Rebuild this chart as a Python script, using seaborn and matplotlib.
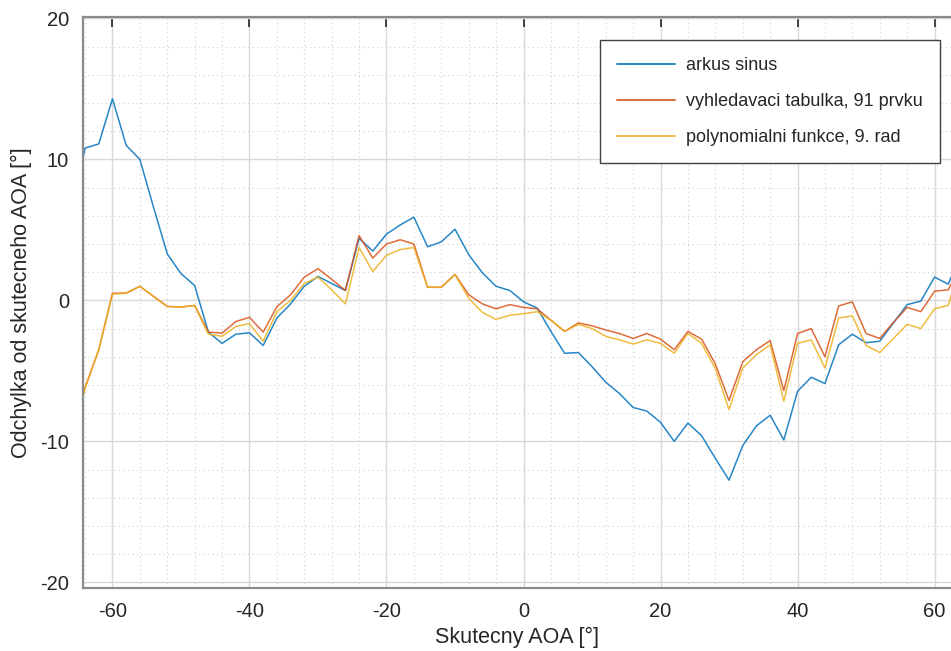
import numpy as np
import pandas as pd
import matplotlib
matplotlib.use("Agg")
import matplotlib.pyplot as plt
from matplotlib.ticker import MultipleLocator
import seaborn as sns

# Skutecny AOA (step 2 deg), only the visible part of the -90..90 range
aoa = list(range(-66, 66, 2))

arkus_sinus = [6.0, 10.8, 11.1, 14.3, 11.0, 10.0, 6.6, 3.3, 1.9, 1.05,
               -2.25, -3.05, -2.4, -2.3, -3.2, -1.25, -0.25, 1.0, 1.7, 1.2,
               0.7, 4.4, 3.5, 4.7, 5.35, 5.9, 3.8, 4.15, 5.05, 3.25,
               1.95, 1.0, 0.7, -0.1, -0.55, -2.2, -3.75, -3.7, -4.7, -5.8,
               -6.6, -7.6, -7.85, -8.65, -10.0, -8.7, -9.6, -11.2, -12.75, -10.3,
               -8.9, -8.15, -9.9, -6.45, -5.45, -5.9, -3.15, -2.4, -3.0, -2.9,
               -1.6, -0.3, -0.05, 1.65, 1.15, 3.5]

tabulka = [-10.0, -6.2, -3.5, 0.5, 0.52, 1.0, 0.28, -0.43, -0.47, -0.36,
           -2.25, -2.32, -1.5, -1.2, -2.25, -0.45, 0.4, 1.65, 2.25, 1.5,
           0.7, 4.6, 3.0, 4.0, 4.3, 4.0, 0.93, 0.93, 1.85, 0.4,
           -0.25, -0.6, -0.3, -0.5, -0.6, -1.4, -2.2, -1.6, -1.8, -2.1,
           -2.35, -2.7, -2.35, -2.75, -3.5, -2.2, -2.75, -4.5, -7.1, -4.35,
           -3.5, -2.85, -6.4, -2.35, -2.0, -4.0, -0.4, -0.1, -2.35, -2.7,
           -1.55, -0.5, -0.8, 0.65, 0.75, 2.6]

polynom = [-10.2, -6.2, -3.5, 0.45, 0.5, 1.0, 0.28, -0.43, -0.47, -0.38,
           -2.4, -2.55, -1.85, -1.65, -2.9, -0.8, 0.0, 1.2, 1.65, 0.75,
           -0.25, 3.75, 2.05, 3.2, 3.6, 3.75, 0.93, 0.93, 1.83, 0.15,
           -0.85, -1.35, -1.05, -0.95, -0.8, -1.4, -2.2, -1.7, -2.0, -2.55,
           -2.8, -3.1, -2.8, -3.05, -3.75, -2.35, -3.05, -4.85, -7.75, -4.8,
           -3.85, -3.15, -7.15, -3.05, -2.8, -4.8, -1.25, -1.1, -3.2, -3.7,
           -2.7, -1.7, -2.0, -0.6, -0.35, 2.8]

labels = ["arkus sinus", "vyhledavaci tabulka, 91 prvku", "polynomialni funkce, 9. rad"]
colors = ["#0072BD", "#D95319", "#EDB120"]

df = pd.concat([
    pd.DataFrame({"aoa": aoa, "err": vals, "metoda": lab})
    for lab, vals in zip(labels, [arkus_sinus, tabulka, polynom])
])

sns.set_style("white")
plt.rcParams["font.family"] = ["Liberation Sans", "DejaVu Sans"]
plt.rcParams["axes.unicode_minus"] = False

fig = plt.figure(figsize=(9.51, 6.51), dpi=100)
ax = fig.add_axes([83 / 951, 63 / 651, 1 - 83 / 951, 571 / 651])

sns.lineplot(data=df, x="aoa", y="err", hue="metoda", palette=colors,
             linewidth=1.1, alpha=0.85, ax=ax, sort=False)

ax.set_xlim(-64.3, 62.4)
ax.set_ylim(-20.4, 20.1)
ax.set_xticks([-60, -40, -20, 0, 20, 40, 60])
ax.set_yticks([-20, -10, 0, 10, 20])
ax.xaxis.set_minor_locator(MultipleLocator(4))
ax.yaxis.set_minor_locator(MultipleLocator(2))

ax.set_axisbelow(True)
ax.grid(which="major", color="#d8d8d8", linewidth=1.0, linestyle="-")
ax.grid(which="minor", color="#cfcfcf", linewidth=0.8, linestyle=(0, (1, 3)))

for side in ["left", "bottom", "top"]:
    ax.spines[side].set_color("#8a8a8a")
    ax.spines[side].set_linewidth(1.6)
ax.spines["right"].set_visible(False)

ax.tick_params(which="major", direction="in", length=7, width=1.2, color="#262626",
               labelsize=14.5, labelcolor="#262626", top=True, pad=10)
ax.tick_params(which="minor", length=0)

ax.set_xlabel("Skutecny AOA [°]", fontsize=15.5, color="#262626", labelpad=4)
ax.set_ylabel("Odchylka od skutecneho AOA [°]", fontsize=15.5, color="#262626", labelpad=6)

leg = ax.legend(loc="upper right", bbox_to_anchor=(0.987, 0.96), borderaxespad=0,
                fontsize=13, handlelength=3.2, labelspacing=1.05, borderpad=0.95,
                handletextpad=0.6, fancybox=False, framealpha=1, edgecolor="#404040")
leg.get_frame().set_linewidth(1.0)
for h in leg.get_lines():
    h.set_linewidth(1.4)

fig.savefig("out.png", dpi=100)
